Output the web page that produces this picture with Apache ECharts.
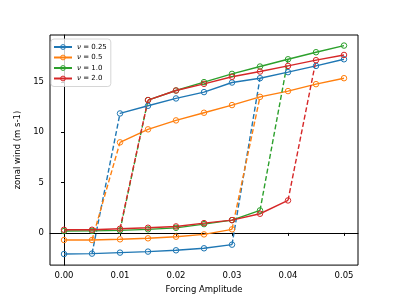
<!DOCTYPE html>
<html><head><meta charset="utf-8">
<script src="https://cdn.jsdelivr.net/npm/echarts@6/dist/echarts.min.js"></script>
<style>html,body{margin:0;padding:0;background:#fff}#c{width:399px;height:299px}</style>
</head><body><div id="c"></div>
<script>
// Forcing amplitude values (x)
const forcing = [0, 0.005, 0.01, 0.015, 0.02, 0.025, 0.03, 0.035, 0.04, 0.045, 0.05];
const nuNames = ['ν = 0.25', 'ν = 0.5', 'ν = 1.0', 'ν = 2.0'];
// lower (weak-wind) branch, null where absent
const lower025 = [-2.1, -2.06, -1.96, -1.86, -1.73, -1.53, -1.17, null, null, null, null];
const lower05  = [-0.71, -0.71, -0.64, -0.54, -0.38, -0.15, 0.35, null, null, null, null];
const lower10  = [0.18, 0.2, 0.25, 0.35, 0.5, 0.87, 1.27, 2.23, null, null, null];
const lower20  = [0.31, 0.31, 0.41, 0.51, 0.64, 0.97, 1.27, 1.9, 3.22, null, null];
// upper (strong-wind) branch
const upper025 = [null, null, 11.86, 12.62, 13.35, 13.98, 14.93, 15.36, 15.96, 16.58, 17.24];
const upper05  = [null, null, 8.99, 10.28, 11.17, 11.93, 12.69, 13.51, 14.08, 14.77, 15.36];
const upper10  = [null, null, null, 13.19, 14.14, 14.97, 15.79, 16.52, 17.24, 17.94, 18.6];
const upper20  = [null, null, null, 13.19, 14.14, 14.8, 15.5, 16.02, 16.58, 17.15, 17.67];
const xTicks = [0, 0.01, 0.02, 0.03, 0.04, 0.05];
const yTicks = [0, 5, 10, 15];

const lowers = [lower025, lower05, lower10, lower20];
const uppers = [upper025, upper05, upper10, upper20];
const colors = ['#1f77b4', '#ff7f0e', '#2ca02c', '#d62728'];

const pairs = arr => arr.map((v, i) => v === null ? null : [forcing[i], v]).filter(p => p);
const series = [];
for (let k = 0; k < 4; k++) {
  const lo = lowers[k], up = uppers[k], c = colors[k];
  const common = {
    type: 'line', name: nuNames[k], animation: false,
    symbol: 'circle', symbolSize: 5.5,
    itemStyle: { color: 'rgba(255,255,255,0)', borderColor: c, borderWidth: 1 },
    lineStyle: { color: c, width: 1.4 },
    emphasis: { disabled: true }
  };
  series.push(Object.assign({}, common, { data: pairs(lo) }));
  series.push(Object.assign({}, common, { data: pairs(up) }));
  const firstUp = up.findIndex(v => v !== null);
  let lastLo = -1; lo.forEach((v, i) => { if (v !== null) lastLo = i; });
  const jumps = [
    [[forcing[firstUp - 1], lo[firstUp - 1]], [forcing[firstUp], up[firstUp]]],
    [[forcing[lastLo], lo[lastLo]], [forcing[lastLo + 1], up[lastLo + 1]]]
  ];
  jumps.forEach(j => series.push({
    type: 'line', name: nuNames[k], animation: false, symbol: 'none',
    lineStyle: { color: c, width: 1.4, type: [5, 2.5] },
    emphasis: { disabled: true }, data: j
  }));
}

const font = 'DejaVu Sans';
const chart = echarts.init(document.getElementById('c'), null, { renderer: 'canvas' });
chart.setOption({
  backgroundColor: '#fff',
  animation: false,
  grid: { left: 50, right: 41, top: 35, bottom: 33, show: true, borderColor: '#000', borderWidth: 1, backgroundColor: 'transparent' },
  legend: {
    data: nuNames, orient: 'vertical', left: 51, top: 39,
    itemWidth: 18, itemHeight: 6, itemGap: 0.5,
    padding: [3, 4, 3, 2],
    borderColor: '#cccccc', borderWidth: 0.8, borderRadius: 3,
    backgroundColor: 'rgba(255,255,255,0.8)',
    itemStyle: { color: 'rgba(255,255,255,0)', borderWidth: 1 },
    formatter: n => n.replace('ν', '{i|ν}'),
    textStyle: { fontFamily: font, fontSize: 7, color: '#000', lineHeight: 10,
      rich: { i: { fontFamily: font, fontStyle: 'italic', fontSize: 7, color: '#000' } } }
  },
  xAxis: {
    type: 'value', min: -0.0025, max: 0.0525,
    name: 'Forcing Amplitude', nameLocation: 'middle', nameGap: 17,
    nameTextStyle: { fontFamily: font, fontSize: 8.5, color: '#000' },
    axisLine: { show: true, lineStyle: { color: '#000', width: 1 } },
    axisTick: { show: true, length: 3, customValues: xTicks, lineStyle: { color: '#000' } },
    axisLabel: { customValues: xTicks, margin: 6, formatter: v => v.toFixed(2), fontFamily: font, fontSize: 8.5, color: '#000' },
    splitLine: { show: false }
  },
  yAxis: {
    type: 'value', min: -3.2, max: 19.65,
    name: 'zonal wind (m s-1)', nameLocation: 'middle', nameGap: 21,
    nameTextStyle: { fontFamily: font, fontSize: 8.5, color: '#000' },
    axisLine: { show: true, lineStyle: { color: '#000', width: 1 } },
    axisTick: { show: true, length: 3, customValues: yTicks, lineStyle: { color: '#000' } },
    axisLabel: { customValues: yTicks, margin: 6, formatter: v => String(v), fontFamily: font, fontSize: 8.5, color: '#000' },
    splitLine: { show: false }
  },
  series: series
});
</script></body></html>
